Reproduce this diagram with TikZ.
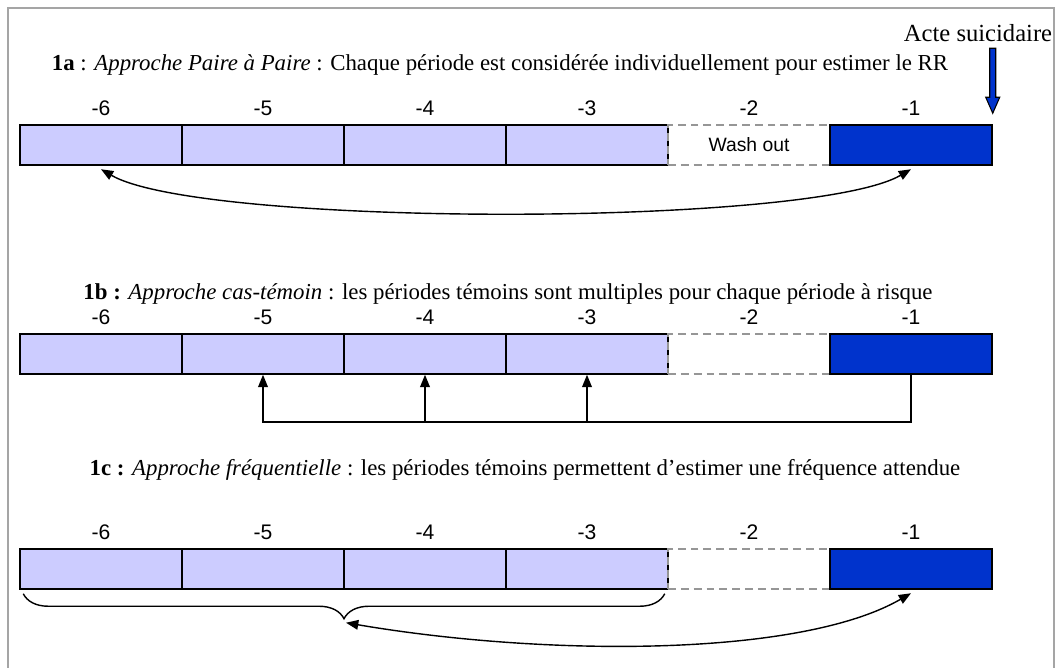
\documentclass[tikz,border=0pt]{standalone}
\usepackage{fontspec}
\setmainfont{Liberation Serif}
\newfontfamily\arialfont{Liberation Sans}
\usetikzlibrary{arrows.meta,decorations.pathreplacing,calc}

\definecolor{ctrlblue}{RGB}{204,204,255}
\definecolor{riskblue}{RGB}{0,51,204}
\definecolor{washgray}{RGB}{150,150,150}
\definecolor{framegray}{RGB}{165,165,165}

\begin{document}
\begin{tikzpicture}[x=0.02cm,y=-0.02cm,
  >={Triangle[length=7pt,width=5.5pt]},
  ctrl/.style={draw,line width=0.85pt,fill=ctrlblue,minimum width=3.24cm,minimum height=0.8cm,inner sep=0pt},
  wash/.style={draw=washgray,line width=0.7pt,dash pattern=on 4.5pt off 2.8pt,minimum width=3.24cm,minimum height=0.8cm,inner sep=0pt},
  risk/.style={draw,line width=0.85pt,fill=riskblue,minimum width=3.24cm,minimum height=0.8cm,inner sep=0pt},
  num/.style={font=\arialfont\fontsize{12}{14}\selectfont,inner sep=0pt},
  title/.style={font=\fontsize{13}{15}\selectfont,inner sep=0pt},
  link/.style={line width=0.8pt}]
\useasboundingbox (0,0) rectangle (1058,668);
\draw[framegray,line width=0.8pt] (8,700) -- (8,8) -- (1054,8) -- (1054,700);

% titles
\node[title] (t1a) at (500,65) {\textbf{1a} : \textit{Approche Paire à Paire} : Chaque période est considérée individuellement pour estimer le RR};
\node[title] (t1b) at (508,294) {\textbf{1b :} \textit{Approche cas-témoin} : les périodes témoins sont multiples pour chaque période à risque};
\node[title] (t1c) at (525,470) {\textbf{1c :} \textit{Approche fréquentielle} : les périodes témoins permettent d’estimer une fréquence attendue};

% the three rows of periods
\foreach \r/\y in {a/145,b/354,c/569}{
  \foreach \i/\x in {6/101,5/263,4/425,3/587}{
    \node[ctrl] (\r\i) at (\x,\y) {};
    \node[num] (\r\i n) at (\x,\y-37) {-\i};
  }
  \node[wash] (\r2) at (749,\y) {};
  \node[num] (\r2n) at (749,\y-37) {-2};
  \node[risk] (\r1) at (911,\y) {};
  \node[num] (\r1n) at (911,\y-37) {-1};
}
\node[font=\arialfont\fontsize{11}{13}\selectfont] (washtxt) at (a2) {Wash out};

% acte suicidaire
\node[font=\fontsize{14}{16}\selectfont,inner sep=0pt] (acte) at (978,33) {Acte suicidaire};
\coordinate (actetip) at ([shift={(0,-11)}]a1.north east);
\draw[fill=riskblue,line width=0.6pt] (actetip) -- ++(-7,-16) -- ++(4,0) -- ++(0,-49)
  -- ++(6,0) -- ++(0,49) -- ++(4,0) -- cycle;

% 1a
\draw[link,<->] ([yshift=-2pt]a6.south) .. controls +(100,58) and +(-100,58) .. ([yshift=-2pt]a1.south);

% 1b
\coordinate (bbase) at (0,422);
\draw[link,->] (b1.south) |- (bbase -| b5.south) -- (b5.south);
\draw[link,->] (bbase -| b4.south) -- (b4.south);
\draw[link,->] (bbase -| b3.south) -- (b3.south);

% 1c
\draw[link,decorate,decoration={brace,mirror,amplitude=0.5cm}]
  ([shift={(4,4)}]c6.south west) -- ([shift={(-4,4)}]c3.south east);
\coordinate (bracetip) at ($(c6.south west)!0.5!(c3.south east)+(2,33)$);
\draw[link,<->] (bracetip) .. controls +(200,34) and +(-111,64) .. ([yshift=-2pt]c1.south);
\end{tikzpicture}
\end{document}
